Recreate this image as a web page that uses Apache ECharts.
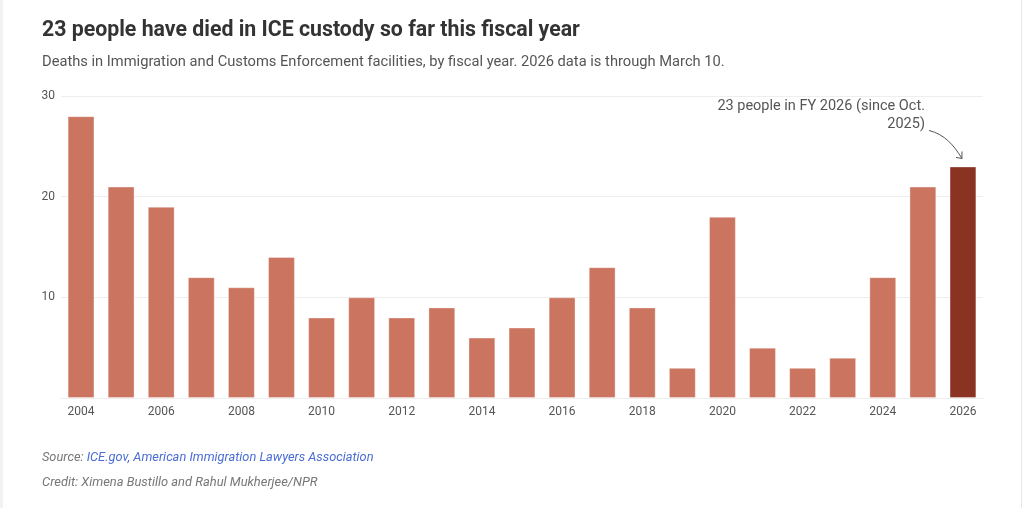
<!DOCTYPE html>
<html>
<head>
<meta charset="utf-8">
<script src="https://cdn.jsdelivr.net/npm/echarts@6/dist/echarts.min.js"></script>
<style>
  html, body { margin: 0; padding: 0; background: #fff; }
  #chart { width: 1024px; height: 508px; }
</style>
</head>
<body>
<div id="chart"></div>
<script>
// fiscal years and deaths in ICE custody
var years = ['2004', '2005', '2006', '2007', '2008', '2009', '2010', '2011', '2012', '2013', '2014',
  '2015', '2016', '2017', '2018', '2019', '2020', '2021', '2022', '2023', '2024', '2025', '2026'];
var deaths = [28, 21, 19, 12, 11, 14, 8, 10, 8, 9, 6, 7, 10, 13, 9, 3, 18, 5, 3, 4, 12, 21, 23];
var highlightYear = '2026';
var yTicks = [0, 10, 20, 30];

var titleText = '23 people have died in ICE custody so far this fiscal year';
var subText = 'Deaths in Immigration and Customs Enforcement facilities, by fiscal year. 2026 data is through March 10.';
var noteText = '23 people in FY 2026 (since Oct.\n2025)';

var FONT = 'Roboto, "Noto Sans", sans-serif';
var barColor = '#cb7460';
var hiColor = '#8b3322';

var myChart = echarts.init(document.getElementById('chart'));

var barData = deaths.map(function (v, i) {
    return {
        value: v,
        itemStyle: { color: years[i] === highlightYear ? hiColor : barColor }
    };
});

myChart.setOption({
    animation: false,
    backgroundColor: '#fff',
    textStyle: { fontFamily: FONT },
    title: [
        {
            text: titleText,
            left: 37, top: 15,
            textStyle: { fontSize: 21.3, fontWeight: 'bold', color: '#333', fontFamily: FONT }
        },
        {
            text: subText,
            left: 37, top: 50,
            textStyle: { fontSize: 14.7, fontWeight: 'normal', color: '#555', fontFamily: FONT }
        },
        {
            text: '{s|Source: }{l|ICE.gov, American Immigration Lawyers Association}',
            left: 37, top: 446,
            textStyle: {
                fontSize: 12.8, fontStyle: 'italic', fontWeight: 'normal', color: '#777',
                rich: {
                    s: { fontSize: 12.8, fontStyle: 'italic', color: '#777', fontFamily: FONT },
                    l: { fontSize: 12.8, fontStyle: 'italic', color: '#4a6cd4', fontFamily: FONT }
                }
            }
        },
        {
            text: 'Credit: Ximena Bustillo and Rahul Mukherjee/NPR',
            left: 37, top: 471,
            textStyle: { fontSize: 12.9, fontStyle: 'italic', fontWeight: 'normal', color: '#777', fontFamily: FONT }
        }
    ],
    grid: { left: 61, right: 41, top: 96, bottom: 110, containLabel: false },
    xAxis: {
        type: 'category',
        data: years,
        axisLine: { show: true, lineStyle: { color: '#eee' } },
        axisTick: { show: false },
        axisLabel: {
            interval: 1,
            color: '#555',
            fontSize: 12,
            margin: 8
        }
    },
    yAxis: {
        type: 'value',
        min: yTicks[0],
        max: yTicks[yTicks.length - 1],
        interval: 10,
        axisLine: { show: false },
        axisTick: { show: false },
        splitLine: { lineStyle: { color: '#eee' } },
        axisLabel: {
            showMinLabel: false,
            color: '#555',
            fontSize: 12,
            margin: 6
        }
    },
    series: [
        {
            type: 'bar',
            data: barData,
            barCategoryGap: '33%',
            itemStyle: { borderColor: 'rgba(255,255,255,0.35)', borderWidth: 1 }
        }
    ]
});

// annotation placed relative to the highlighted bar
function addNote() {
    var hiIndex = years.indexOf(highlightYear);
    var peak = myChart.convertToPixel({ gridIndex: 0 }, [hiIndex, deaths[hiIndex]]);
    var tx = peak[0] - 38, ty = peak[1] - 69;
    var sx = peak[0] - 34, sy = peak[1] - 36;
    var ex = peak[0] - 1, ey = peak[1] - 8;
    myChart.setOption({
        graphic: {
            elements: [
                // page frame edges
                { type: 'rect', shape: { x: 0, y: 0, width: 3, height: 508 }, style: { fill: '#f2f2f2' } },
                { type: 'rect', shape: { x: 1021, y: 0, width: 1, height: 508 }, style: { fill: '#e6e6e6' } },
                {
                    type: 'text',
                    x: tx, y: ty,
                    z: 100,
                    style: {
                        text: noteText,
                        align: 'right',
                        verticalAlign: 'top',
                        fill: '#555',
                        fontSize: 14.5,
                        lineHeight: 18,
                        fontFamily: FONT
                    }
                },
                {
                    type: 'bezierCurve',
                    z: 100,
                    shape: { x1: sx, y1: sy, x2: ex, y2: ey, cpx1: sx + 16, cpy1: sy + 4, cpx2: ex - 8, cpy2: ey - 13 },
                    style: { stroke: '#555', lineWidth: 1, fill: null }
                },
                {
                    type: 'polyline',
                    z: 100,
                    shape: { points: [[ex - 6, ey - 1], [ex, ey], [ex, ey - 7]] },
                    style: { stroke: '#555', lineWidth: 1, fill: null }
                }
            ]
        }
    });
}
addNote();
</script>
</body>
</html>
